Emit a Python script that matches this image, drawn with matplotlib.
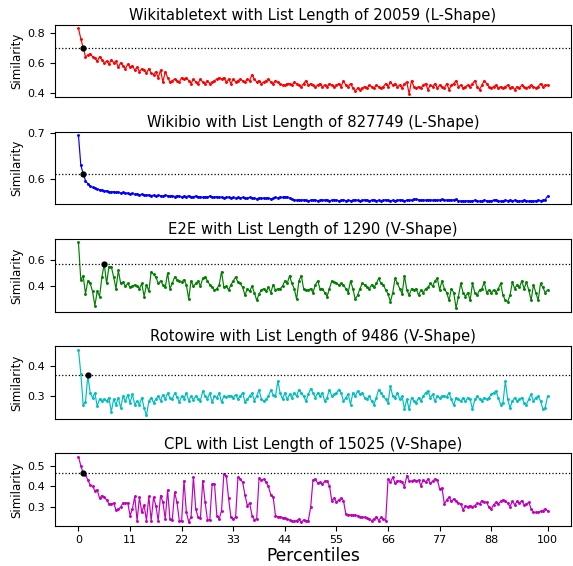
import numpy as np
import matplotlib
matplotlib.use("Agg")
import matplotlib.pyplot as plt

titles = [
    "Wikitabletext with List Length of 20059 (L-Shape)",
    "Wikibio with List Length of 827749 (L-Shape)",
    "E2E with List Length of 1290 (V-Shape)",
    "Rotowire with List Length of 9486 (V-Shape)",
    "CPL with List Length of 15025 (V-Shape)",
]
colors = ["r", "b", "g", "c", "m"]
percentiles = np.arange(0, 100.5, 0.5)
xtick_values = [0, 11, 22, 33, 44, 55, 66, 77, 88, 100]
ytick_values = [[0.4, 0.6, 0.8], [0.6, 0.7], [0.4, 0.6], [0.3, 0.4], [0.3, 0.4, 0.5]]
elbow_index = [2, 2, 11, 4, 2]

wikitabletext = [
    0.83, 0.76, 0.70, 0.64, 0.65, 0.66, 0.64, 0.63, 0.61, 0.64,
    0.62, 0.60, 0.61, 0.59, 0.62, 0.60, 0.61, 0.57, 0.60, 0.58,
    0.56, 0.59, 0.57, 0.58, 0.55, 0.57, 0.54, 0.56, 0.55, 0.53,
    0.56, 0.53, 0.52, 0.54, 0.50, 0.55, 0.47, 0.54, 0.50, 0.47,
    0.48, 0.49, 0.48, 0.47, 0.50, 0.49, 0.50, 0.48, 0.46, 0.49,
    0.47, 0.46, 0.49, 0.47, 0.46, 0.48, 0.46, 0.47, 0.48, 0.49,
    0.50, 0.49, 0.50, 0.47, 0.49, 0.46, 0.49, 0.47, 0.48, 0.49,
    0.48, 0.47, 0.49, 0.48, 0.52, 0.49, 0.47, 0.48, 0.46, 0.47,
    0.48, 0.49, 0.47, 0.46, 0.48, 0.47, 0.46, 0.45, 0.45, 0.46,
    0.46, 0.45, 0.47, 0.46, 0.45, 0.44, 0.46, 0.48, 0.45, 0.46,
    0.45, 0.44, 0.45, 0.46, 0.44, 0.45, 0.44, 0.46, 0.45, 0.44,
    0.45, 0.46, 0.44, 0.48, 0.45, 0.44, 0.46, 0.43, 0.41, 0.43,
    0.42, 0.43, 0.44, 0.43, 0.45, 0.44, 0.43, 0.45, 0.44, 0.43,
    0.44, 0.46, 0.44, 0.47, 0.45, 0.46, 0.44, 0.45, 0.43, 0.46,
    0.47, 0.39, 0.48, 0.44, 0.43, 0.44, 0.43, 0.45, 0.46, 0.42,
    0.45, 0.44, 0.46, 0.43, 0.45, 0.44, 0.43, 0.46, 0.42, 0.45,
    0.46, 0.48, 0.44, 0.45, 0.43, 0.44, 0.45, 0.44, 0.46, 0.48,
    0.44, 0.42, 0.45, 0.48, 0.46, 0.44, 0.43, 0.44, 0.45, 0.43,
    0.44, 0.43, 0.44, 0.45, 0.43, 0.44, 0.42, 0.44, 0.43, 0.45,
    0.44, 0.43, 0.44, 0.45, 0.44, 0.43, 0.44, 0.46, 0.44, 0.45,
    0.45,
]

wikibio = [
    0.695, 0.630, 0.611, 0.596, 0.589, 0.584, 0.581, 0.580, 0.578, 0.576,
    0.575, 0.573, 0.574, 0.572, 0.571, 0.572, 0.570, 0.571, 0.569, 0.570,
    0.568, 0.569, 0.567, 0.568, 0.566, 0.567, 0.565, 0.566, 0.565, 0.564,
    0.565, 0.563, 0.564, 0.562, 0.564, 0.563, 0.562, 0.564, 0.563, 0.562,
    0.563, 0.561, 0.563, 0.562, 0.560, 0.562, 0.561, 0.563, 0.560, 0.561,
    0.562, 0.560, 0.561, 0.559, 0.561, 0.560, 0.562, 0.559, 0.560, 0.561,
    0.559, 0.560, 0.558, 0.559, 0.560, 0.558, 0.559, 0.557, 0.559, 0.558,
    0.559, 0.557, 0.558, 0.559, 0.557, 0.558, 0.556, 0.558, 0.557, 0.558,
    0.557, 0.558, 0.556, 0.557, 0.559, 0.558, 0.560, 0.559, 0.561, 0.560,
    0.558, 0.556, 0.554, 0.553, 0.554, 0.553, 0.554, 0.553, 0.552, 0.553,
    0.554, 0.553, 0.552, 0.553, 0.554, 0.553, 0.554, 0.552, 0.553, 0.554,
    0.553, 0.552, 0.553, 0.554, 0.552, 0.553, 0.552, 0.553, 0.554, 0.553,
    0.552, 0.553, 0.554, 0.553, 0.552, 0.553, 0.554, 0.552, 0.553, 0.552,
    0.553, 0.554, 0.553, 0.552, 0.553, 0.552, 0.553, 0.554, 0.553, 0.552,
    0.553, 0.554, 0.553, 0.556, 0.555, 0.554, 0.553, 0.554, 0.553, 0.554,
    0.554, 0.553, 0.554, 0.553, 0.554, 0.555, 0.554, 0.553, 0.554, 0.553,
    0.554, 0.555, 0.552, 0.551, 0.552, 0.551, 0.552, 0.551, 0.552, 0.553,
    0.552, 0.551, 0.552, 0.553, 0.552, 0.551, 0.552, 0.553, 0.554, 0.552,
    0.551, 0.552, 0.553, 0.552, 0.553, 0.552, 0.553, 0.552, 0.551, 0.552,
    0.553, 0.552, 0.551, 0.552, 0.551, 0.552, 0.553, 0.552, 0.553, 0.554,
    0.562,
]

e2e = [
    0.735, 0.445, 0.48, 0.34, 0.44, 0.42, 0.36, 0.25, 0.36, 0.32,
    0.47, 0.57, 0.42, 0.55, 0.55, 0.47, 0.38, 0.52, 0.42, 0.43,
    0.40, 0.42, 0.39, 0.40, 0.41, 0.40, 0.38, 0.42, 0.32, 0.41,
    0.36, 0.51, 0.49, 0.47, 0.42, 0.44, 0.41, 0.39, 0.50, 0.38,
    0.42, 0.47, 0.45, 0.44, 0.43, 0.45, 0.41, 0.30, 0.44, 0.40,
    0.42, 0.44, 0.40, 0.46, 0.47, 0.44, 0.41, 0.39, 0.37, 0.38,
    0.41, 0.51, 0.39, 0.40, 0.37, 0.41, 0.44, 0.47, 0.43, 0.42,
    0.39, 0.33, 0.38, 0.36, 0.40, 0.35, 0.29, 0.34, 0.37, 0.38,
    0.36, 0.39, 0.35, 0.41, 0.37, 0.38, 0.38, 0.40,
    0.44, 0.42, 0.48, 0.42, 0.38, 0.30, 0.44, 0.48, 0.38, 0.37,
    0.37, 0.38, 0.35, 0.41, 0.44, 0.38, 0.38, 0.35, 0.32, 0.38,
    0.44, 0.43, 0.42, 0.41, 0.42, 0.41, 0.38, 0.35, 0.44, 0.38,
    0.30, 0.33, 0.38, 0.42, 0.41, 0.39, 0.38, 0.41, 0.39, 0.42,
    0.46, 0.42, 0.41, 0.37, 0.34, 0.28, 0.35, 0.46, 0.42, 0.38,
    0.34, 0.48, 0.37, 0.33, 0.38, 0.37, 0.38, 0.33, 0.37, 0.35,
    0.38, 0.39, 0.42, 0.40, 0.44, 0.46, 0.37, 0.44, 0.38, 0.35,
    0.29, 0.38, 0.35, 0.23, 0.32, 0.42, 0.35, 0.32, 0.35, 0.29,
    0.42, 0.35, 0.33, 0.37, 0.38, 0.43, 0.35, 0.37, 0.35, 0.37,
    0.35, 0.38, 0.42, 0.33, 0.29, 0.28, 0.33, 0.43, 0.38, 0.41,
    0.39, 0.44, 0.38, 0.43, 0.37, 0.29, 0.41, 0.35, 0.29, 0.42,
    0.39, 0.35, 0.37,
]

rotowire = [
    0.455, 0.375, 0.272, 0.280, 0.369, 0.310, 0.295, 0.310, 0.267, 0.290,
    0.285, 0.290, 0.283, 0.295, 0.247, 0.290, 0.272, 0.295, 0.260, 0.300,
    0.283, 0.305, 0.278, 0.306, 0.272, 0.283, 0.272, 0.295, 0.260, 0.236,
    0.283, 0.295, 0.278, 0.290, 0.300, 0.285, 0.305, 0.290, 0.310, 0.295,
    0.290, 0.310, 0.298, 0.280, 0.300, 0.292, 0.310, 0.285, 0.300, 0.288,
    0.300, 0.292, 0.285, 0.317, 0.300, 0.292, 0.310, 0.280, 0.300, 0.295,
    0.310, 0.280, 0.300, 0.298, 0.302, 0.300, 0.295, 0.305, 0.290, 0.300,
    0.312, 0.280, 0.290, 0.300, 0.310, 0.285, 0.300, 0.320, 0.290, 0.283,
    0.290, 0.300, 0.320, 0.305, 0.300, 0.350, 0.310, 0.290,
    0.311, 0.289, 0.306, 0.295, 0.311, 0.300, 0.322, 0.311, 0.300, 0.283,
    0.306, 0.325, 0.311, 0.295, 0.311, 0.300, 0.311, 0.283, 0.295, 0.322,
    0.300, 0.306, 0.311, 0.322, 0.311, 0.283, 0.295, 0.306, 0.272, 0.311,
    0.300, 0.317, 0.306, 0.311, 0.295, 0.289, 0.300, 0.283, 0.272, 0.295,
    0.322, 0.311, 0.300, 0.289, 0.278, 0.333, 0.300, 0.295, 0.311, 0.289,
    0.300, 0.256, 0.289, 0.256, 0.295, 0.283, 0.278, 0.295, 0.283, 0.300,
    0.311, 0.317, 0.295, 0.306, 0.283, 0.300, 0.295, 0.300, 0.300, 0.298,
    0.311, 0.289, 0.269, 0.295, 0.289, 0.283, 0.295, 0.283, 0.295, 0.289,
    0.256, 0.289, 0.300, 0.290, 0.283, 0.295, 0.289, 0.295, 0.306, 0.311,
    0.317, 0.295, 0.272, 0.278, 0.350, 0.289, 0.261, 0.283, 0.295, 0.283,
    0.289, 0.295, 0.278, 0.272, 0.290, 0.306, 0.283, 0.295, 0.300, 0.283,
    0.258, 0.261, 0.300,
]

cpl = [
    0.543, 0.500, 0.463, 0.457, 0.431, 0.407, 0.400, 0.380, 0.383, 0.343,
    0.356, 0.348, 0.335, 0.316, 0.316, 0.320, 0.287, 0.292, 0.300, 0.320,
    0.318, 0.322,
    0.260, 0.292, 0.352, 0.235, 0.348, 0.276, 0.310, 0.235, 0.352, 0.235,
    0.348, 0.308, 0.235, 0.356, 0.324, 0.243, 0.383, 0.243, 0.240, 0.372,
    0.324, 0.235, 0.235, 0.428, 0.276, 0.231, 0.252, 0.447, 0.292, 0.252,
    0.247, 0.428, 0.324, 0.239, 0.240, 0.412, 0.412, 0.260, 0.243, 0.284,
    0.460, 0.452, 0.343, 0.252, 0.243, 0.252, 0.444, 0.436, 0.420, 0.359,
    0.308,
    0.320, 0.260, 0.240, 0.245, 0.440, 0.430, 0.435, 0.420, 0.400, 0.360,
    0.350, 0.260, 0.255, 0.255, 0.250, 0.250,
    0.243, 0.239, 0.236, 0.232, 0.236, 0.243, 0.227, 0.239, 0.236, 0.236,
    0.300, 0.431, 0.436, 0.415, 0.420, 0.412, 0.425, 0.425, 0.404, 0.332,
    0.344, 0.324, 0.335, 0.344, 0.332, 0.267, 0.264, 0.263, 0.263, 0.262,
    0.259, 0.255, 0.252, 0.252, 0.248, 0.243, 0.236, 0.243, 0.255, 0.236,
    0.252, 0.243, 0.236, 0.436, 0.420, 0.444, 0.415, 0.428, 0.425, 0.420,
    0.399, 0.452, 0.428, 0.425, 0.431, 0.425, 0.431, 0.404, 0.431, 0.420,
    0.436, 0.415, 0.425, 0.436, 0.431, 0.388, 0.393, 0.316, 0.335, 0.348,
    0.328, 0.340, 0.332, 0.319, 0.316, 0.287, 0.308, 0.303, 0.308, 0.303,
    0.308, 0.319, 0.316, 0.332, 0.324, 0.324, 0.300, 0.292, 0.312, 0.324,
    0.316, 0.328, 0.335, 0.332, 0.319, 0.303, 0.328, 0.312, 0.328, 0.319,
    0.332, 0.312, 0.316, 0.324, 0.292, 0.275, 0.275, 0.275, 0.280, 0.284,
    0.292, 0.284,
]

series = [wikitabletext, wikibio, e2e, rotowire, cpl]

fig = plt.figure(figsize=(5.73, 5.66), dpi=100)
gs = fig.add_gridspec(5, 1, left=0.096, right=0.9965, top=0.9558, bottom=0.0712, hspace=0.481)

for k in range(5):
    ax = fig.add_subplot(gs[k])
    y = np.array(series[k], dtype=float)
    x = percentiles[:len(y)]
    ax.plot(x, y, color=colors[k], lw=0.85, marker='.', markersize=2.2)
    e = elbow_index[k]
    ax.axhline(y[e], color='k', ls=':', lw=0.9)
    ax.plot(x[e], y[e], 'o', color='k', markersize=3.5)
    ax.set_title(titles[k], fontsize=10.6, pad=3.5)
    ax.set_ylabel("Similarity", fontsize=8.5, labelpad=3)
    ax.set_yticks(ytick_values[k])
    ax.tick_params(axis='y', labelsize=8)
    if k < 4:
        ax.set_xticks([])
    else:
        ax.set_xticks(xtick_values)
        ax.tick_params(axis='x', labelsize=8)
        ax.set_xlabel("Percentiles", fontsize=12.3, labelpad=1)
    ax.set_xlim(-5, 105)

fig.savefig("out.png", dpi=100)
